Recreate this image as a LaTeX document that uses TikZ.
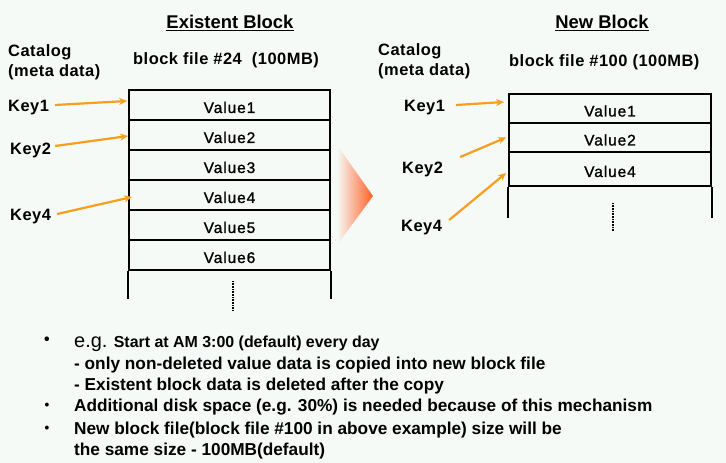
\documentclass[tikz,border=0pt]{standalone}
\usepackage{fontspec}
\setmainfont{Liberation Sans}
\newfontfamily\valfont[FakeBold=1.2, LetterSpace=6]{Liberation Sans}
\usetikzlibrary{arrows.meta,calc}
\definecolor{bgcol}{RGB}{246,250,247}
\definecolor{keyorange}{RGB}{247,158,28}
\definecolor{shiftred}{RGB}{255,96,36}
\tikzset{
  keytxt/.style={font=\fontsize{16.5}{20}\selectfont\bfseries\addfontfeature{LetterSpace=3}, inner sep=0pt},
  headtxt/.style={font=\fontsize{18.5}{22}\selectfont\bfseries, inner sep=0pt},
  listtxt/.style={font=\fontsize{17.3}{20}\selectfont\bfseries, inner sep=0pt, anchor=base west},
  dottxt/.style={font=\fontsize{16}{18}\selectfont\bfseries, inner sep=0pt},
  smalldot/.style={font=\fontsize{13.5}{16}\selectfont\bfseries, inner sep=0pt},
  valrow/.style={draw, line width=1.8bp, inner sep=0pt, text height=16bp, text depth=0pt,
    font=\valfont\fontsize{15.5}{18}\selectfont},
  blockline/.style={line width=1.8bp},
  keyarrow/.style={draw=keyorange, line width=2.2bp, -{Stealth[length=8bp,width=7bp]}},
  dotline/.style={line width=1.5bp, dash pattern=on 0.8bp off 0.8bp}
}
\begin{document}
\begin{tikzpicture}[x=1bp,y=-1bp]
    \fill[bgcol] (0,0) rectangle (726,463);

    \node[headtxt] (t1) at (230,22) {Existent Block};
    \draw[line width=1bp] ([yshift=-1.5bp]t1.south west) -- ([yshift=-1.5bp]t1.south east);
    \node[headtxt] (t2) at (602,22) {New Block};
    \draw[line width=1bp] ([yshift=-1.5bp]t2.south west) -- ([yshift=-1.5bp]t2.south east);

    \node[keytxt, align=left, anchor=north west] (cat1) at (8,44) {Catalog\\(meta data)};
    \node[keytxt, align=left, anchor=north west] (cat2) at (378,43) {Catalog\\(meta data)};
    \node[keytxt, anchor=west] (bf1) at (133,60) {block file \#24\ \ (100MB)};
    \node[keytxt, anchor=west] (bf2) at (509,62) {block file \#100 (100MB)};

    \foreach \n/\v/\yc in {l1/Value1/105, l2/Value2/135, l3/Value3/165, l4/Value4/195, l5/Value5/225, l6/Value6/255}
        \node[valrow, minimum width=201bp, minimum height=30bp] (\n) at (229.5,\yc) {\v};
    \draw[blockline] (l6.south west) -- ++(0,28);
    \draw[blockline] (l6.south east) -- ++(0,28);
    \draw[dotline] (233,281) -- (233,310);

    \foreach \n/\v/\yc/\h in {r1/Value1/108.5/29, r2/Value2/137.5/29, r3/Value4/169/34}
        \node[valrow, minimum width=202bp, minimum height=\h*1bp] (\n) at (610,\yc) {\v};
    \draw[blockline] (r3.south west) -- ++(0,31);
    \draw[blockline] (r3.south east) -- ++(0,31);
    \draw[dotline] (613,203) -- (613,231);

    \node[keytxt, anchor=west] (lk1) at (8,108) {Key1};
    \node[keytxt, anchor=west] (lk2) at (10,150) {Key2};
    \node[keytxt, anchor=west] (lk4) at (10,217) {Key4};
    \draw[keyarrow] ([shift={(6,-3)}]lk1.east) -- ([shift={(-1,-4)}]l1.west);
    \draw[keyarrow] ([shift={(4,-4)}]lk2.east) -- ([shift={(0,1)}]l2.west);
    \draw[keyarrow] ([shift={(6,-3)}]lk4.east) -- ([shift={(4,2)}]l4.west);

    \node[keytxt, anchor=west] (rk1) at (404,108) {Key1};
    \node[keytxt, anchor=west] (rk2) at (402,169) {Key2};
    \node[keytxt, anchor=west] (rk4) at (401,228) {Key4};
    \draw[keyarrow] ([shift={(11,-3)}]rk1.east) -- ([shift={(-4,-6.5)}]r1.west);
    \draw[keyarrow] ([shift={(17,-12)}]rk2.east) -- ([shift={(-2,0)}]r2.west);
    \draw[keyarrow] ([shift={(7,-8)}]rk4.east) -- ([shift={(-2,4)}]r3.west);

    \shade[left color=bgcol, right color=shiftred] (337,145) -- (373,196) -- (337,245) -- cycle;

    \node[dottxt] (d1) at (47,341) {•};
    \node[listtxt] (b1) at (74,348) {{\fontsize{20}{22}\selectfont\mdseries e.g.} {\fontsize{16}{18}\selectfont Start at AM 3:00 (default) every day}};
    \node[listtxt] (b1a) at (74,369) {- only non-deleted value data is copied into new block file};
    \node[listtxt] (b1b) at (74,390) {- Existent block data is deleted after the copy};
    \node[smalldot] (d2) at (47,406) {•};
    \node[listtxt] (b2) at (74,411) {Additional disk space (e.g. 30\%) is needed because of this mechanism};
    \node[smalldot] (d3) at (47,429) {•};
    \node[listtxt] (b3) at (74,434) {New block file(block file \#100 in above example) size will be};
    \node[listtxt] (b3a) at (74,455) {the same size - 100MB(default)};
\end{tikzpicture}
\end{document}
